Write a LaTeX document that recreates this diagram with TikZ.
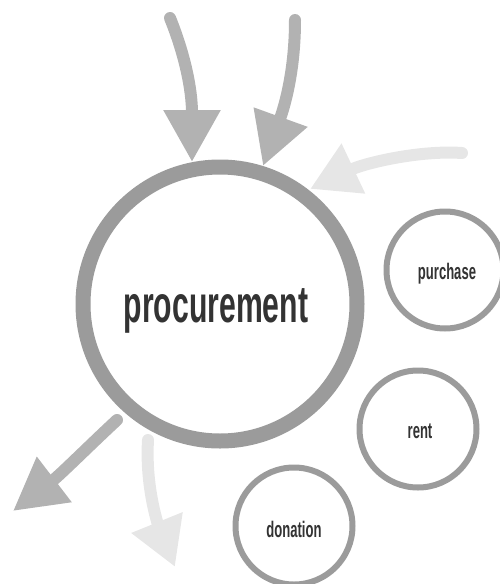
\documentclass[tikz,border=0pt]{standalone}
\usepackage{fontspec}
\newfontfamily\cond{Liberation Sans}[FakeStretch=0.58]
\usetikzlibrary{arrows.meta}
\definecolor{ringgray}{HTML}{9B9B9B}
\definecolor{midgray}{HTML}{B2B2B2}
\definecolor{lightgray}{HTML}{E6E6E6}
\definecolor{textgray}{HTML}{333333}
\tikzset{
  bigring/.style={circle, draw=ringgray, line width=15pt, fill=white, minimum size=274pt, inner sep=0pt},
  smallring/.style={circle, draw=ringgray, line width=6pt, fill=white, minimum size=117pt, inner sep=0pt},
  bigtext/.style={font=\cond\bfseries\fontsize{52}{52}\selectfont, text=textgray, anchor=base, inner sep=0pt},
  smalltext/.style={font=\cond\bfseries\fontsize{22.5}{22.5}\selectfont, text=textgray, anchor=base, inner sep=0pt},
  midarrow/.style={draw=midgray, fill=midgray, line width=12pt, line cap=round, -{Triangle[length=52pt,width=54pt]}},
  lightarrow/.style={draw=lightgray, fill=lightgray, line width=12pt, line cap=round, -{Triangle[length=48pt,width=52pt]}}
}
\begin{document}
\begin{tikzpicture}[x=1pt,y=-1pt]
\useasboundingbox (0,0) rectangle (499,584);
% arrow end points
\coordinate (a1s) at (170,18);  \coordinate (a1e) at (192,162);
\coordinate (a2s) at (295,20);  \coordinate (a2e) at (263,166);
\coordinate (a3s) at (462,153); \coordinate (a3e) at (310,189);
\coordinate (a4s) at (117,420); \coordinate (a4e) at (13,511);
\coordinate (a5s) at (148,440); \coordinate (a5e) at (175,567);
\draw[midarrow] (a1s) .. controls (185,55) and (192,90) .. (a1e);
\draw[midarrow] (a2s) .. controls (295,70) and (285,105) .. (a2e);
\draw[lightarrow] (a3s) .. controls (420,150) and (365,163) .. (a3e);
\draw[midarrow] (a4s) .. controls (90,445) and (60,475) .. (a4e);
\draw[lightarrow] (a5s) .. controls (145,490) and (160,530) .. (a5e);
% circles
\node[bigring] (proc) at (220,304) {};
\node[smallring] (purch) at (445,270) {};
\node[smallring] (rentc) at (418,429) {};
\node[smallring] (don) at (294,526) {};
% labels
\node[bigtext] (proct) at (216,322) {procurement};
\node[smalltext] (purcht) at (447,279) {purchase};
\node[smalltext] (rentt) at (420,438) {rent};
\node[smalltext] (dont) at (294,537) {donation};
\end{tikzpicture}
\end{document}
